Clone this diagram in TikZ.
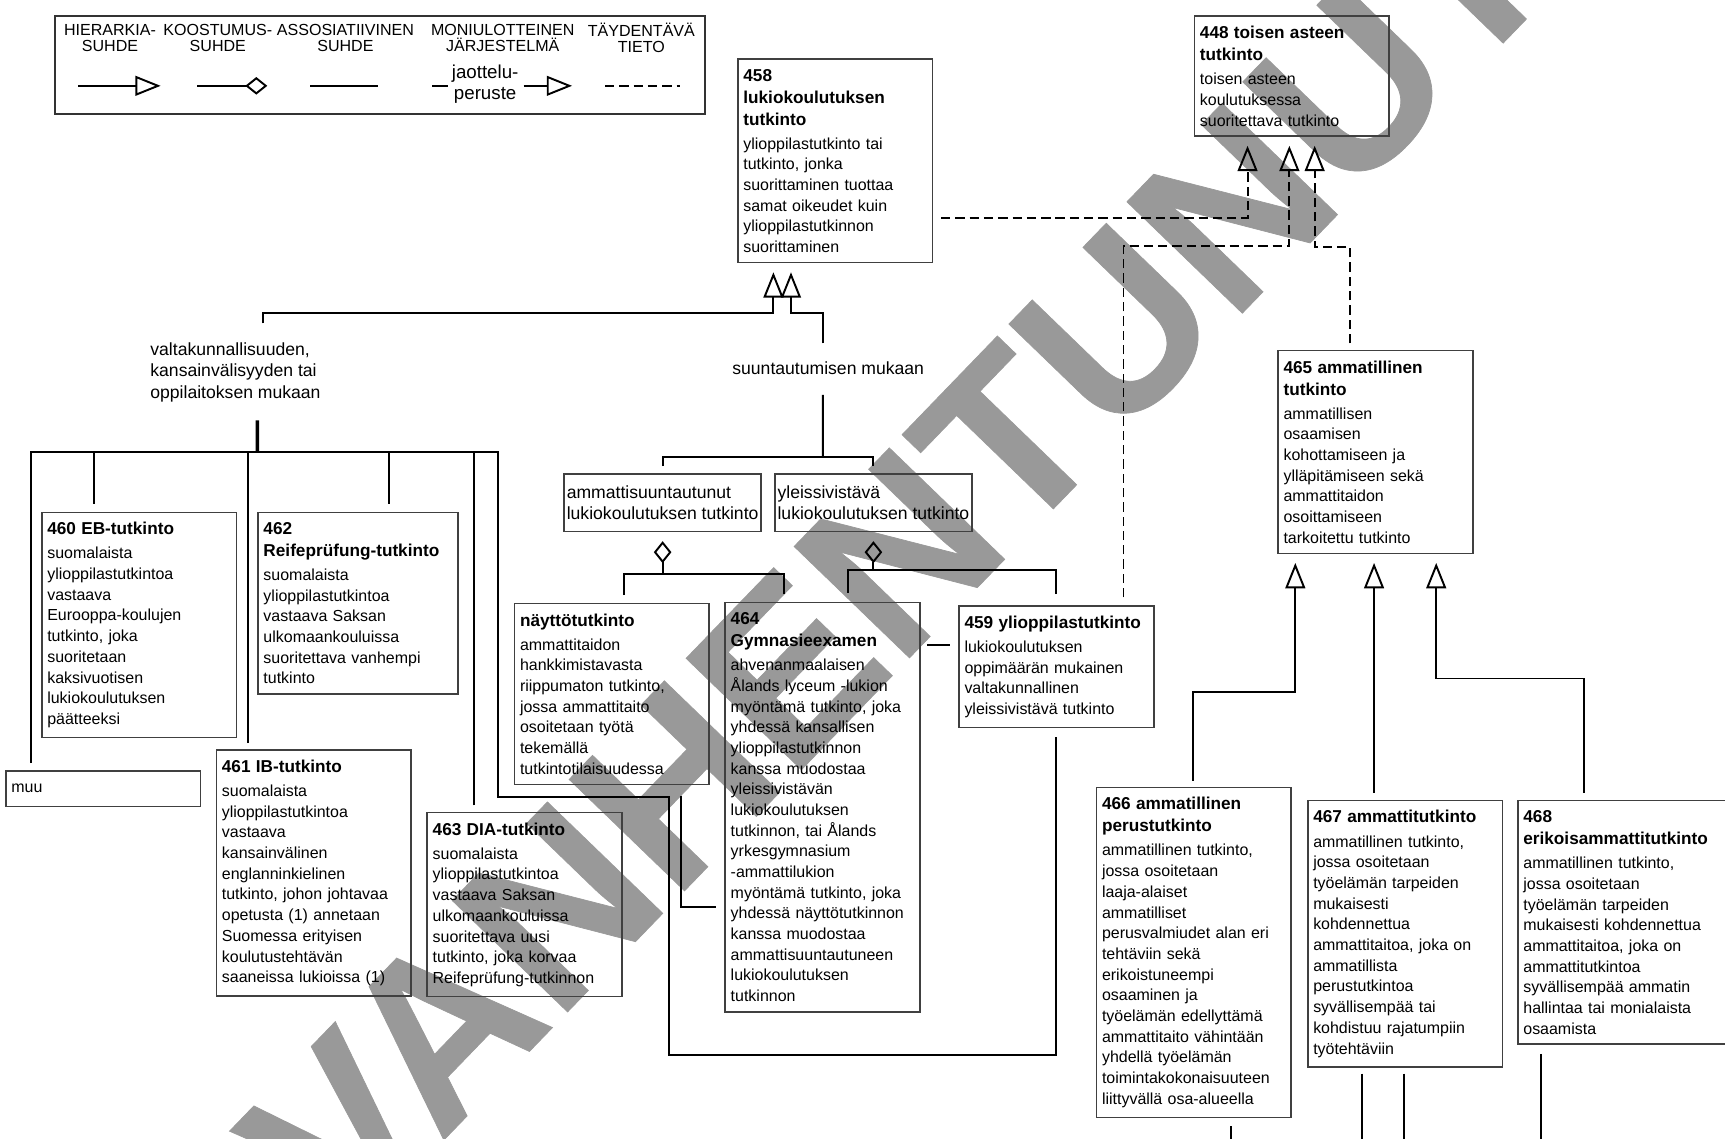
\documentclass[tikz,border=0pt]{standalone}
\usepackage{fontspec}
\setmainfont{Liberation Sans}
\newfontfamily\leimafont[FakeBold=0.3]{Liberation Sans}
\usetikzlibrary{arrows.meta,calc,backgrounds}
\setlength{\parindent}{0pt}

\begin{document}
\begin{tikzpicture}[
  font=\fontsize{4.13}{5.35}\selectfont,
  tk/.style={draw=black!75, line width=0.4pt, anchor=north west, align=left,
             text width=1.67cm, inner xsep=0.05cm, inner ysep=0.09cm},
  luokka/.style={draw=black!75, line width=0.4pt, anchor=north west, align=left,
             inner xsep=0.025cm, inner ysep=0pt, minimum height=0.525cm,
             font=\fontsize{4.55}{5.55}\selectfont},
  peruste/.style={anchor=north west, align=left, inner sep=0pt,
             font=\fontsize{4.55}{5.6}\selectfont},
  otsake/.style={align=center, inner sep=0pt, font=\fontsize{4.15}{4.27}\selectfont},
  yhteys/.style={line width=0.5pt},
  isa/.style={yhteys, -{Triangle[open, length=0.23cm, width=0.18cm]}, shorten >=0.08cm},
  kooste/.style={yhteys, {Diamond[open, length=0.2cm, width=0.16cm]}-},
  tieto/.style={dash pattern=on 0.085cm off 0.045cm},
]
\newcommand{\tk}[2]{{\fontsize{4.45}{5.69}\selectfont\bfseries #1\par}\vspace{0.032cm}{#2\par}}
\useasboundingbox (0,0) rectangle (15.68,-10.35);

% ------------------------------------------------------------------ watermark
\begin{scope}[on background layer]
  \node[rotate=46, anchor=base west, inner sep=0pt, text=black!40,
        font=\leimafont\fontsize{60.3}{61}\selectfont\bfseries] (leima) at (3.12,-11.31) {VANHENTUNUT};
\end{scope}

% ------------------------------------------------------------------ legend
\node[draw=black!80, line width=0.5pt, anchor=north west, minimum width=5.91cm,
      minimum height=0.89cm, inner sep=0pt] (legend) at (0.49,-0.14) {};
\node[otsake] (lhier)  at (1.00,-0.345) {HIERARKIA-\\SUHDE};
\node[otsake] (lkoost) at (1.98,-0.345) {KOOSTUMUS-\\SUHDE};
\node[otsake] (lassoc) at (3.14,-0.345) {ASSOSIATIIVINEN\\SUHDE};
\node[otsake] (lmoni)  at (4.57,-0.345) {MONIULOTTEINEN\\JÄRJESTELMÄ};
\node[otsake] (ltieto) at (5.83,-0.345) {TÄYDENTÄVÄ\\TIETO};
\node[otsake, font=\fontsize{4.84}{5.4}\selectfont] (ljako) at (4.41,-0.765) {jaottelu-\\peruste};
\draw[isa, shorten >=0pt] (0.71,-0.78) -- (1.46,-0.78);
\draw[kooste] (2.43,-0.78) -- (1.795,-0.78);
\draw[yhteys] (2.82,-0.78) -- (3.44,-0.78);
\draw[yhteys] (3.93,-0.78) -- (4.07,-0.78);
\draw[isa, shorten >=0pt] (4.76,-0.78) -- (5.20,-0.78);
\draw[yhteys, tieto] (5.50,-0.78) -- (6.18,-0.78);

% ------------------------------------------------------------------ upper level
\node[tk] (n448) at (10.85,-0.14)
  {\tk{448~toisen~asteen\\tutkinto}{toisen asteen\\koulutuksessa\\suoritettava tutkinto}};
\node[tk] (n458) at (6.70,-0.53)
  {\tk{458\\lukiokoulutuksen\\tutkinto}{ylioppilastutkinto tai\\tutkinto, jonka\\suorittaminen tuottaa\\samat oikeudet kuin\\ylioppilastutkinnon\\suorittaminen}};
\node[tk] (n465) at (11.61,-3.18)
  {\tk{465~ammatillinen\\tutkinto}{ammatillisen\\osaamisen\\kohottamiseen ja\\ylläpitämiseen sekä\\ammattitaidon\\osoittamiseen\\tarkoitettu tutkinto}};

% ------------------------------------------------------------------ division criteria
\node[peruste] (lbvalta) at (1.36,-3.105)
  {valtakunnallisuuden,\\kansainvälisyyden tai\\oppilaitoksen mukaan};
\node[peruste] (lbsuunta) at (6.65,-3.28) {suuntautumisen mukaan};
\node[luokka] (namm) at (5.12,-4.30) {ammattisuuntautunut\\lukiokoulutuksen tutkinto};
\node[luokka] (nyle) at (7.036,-4.30) {yleissivistävä\\lukiokoulutuksen tutkinto};

% ------------------------------------------------------------------ upper secondary degrees
\node[tk] (n460) at (0.373,-4.65)
  {\tk{460~EB-tutkinto}{suomalaista\\ylioppilastutkintoa\\vastaava\\Eurooppa-koulujen\\tutkinto, joka\\suoritetaan\\kaksivuotisen\\lukiokoulutuksen\\päätteeksi}};
\node[tk, text width=1.72cm] (n462) at (2.338,-4.65)
  {\tk{462\\Reifeprüfung-tutkinto}{suomalaista\\ylioppilastutkintoa\\vastaava Saksan\\ulkomaankouluissa\\suoritettava vanhempi\\tutkinto}};
\node[tk, minimum height=0.324cm] (nmuu) at (0.046,-7.00) {muu};
\node[tk] (n461) at (1.96,-6.81)
  {\tk{461~IB-tutkinto}{suomalaista\\ylioppilastutkintoa\\vastaava\\kansainvälinen\\englanninkielinen\\tutkinto, johon johtavaa\\opetusta (1) annetaan\\Suomessa erityisen\\koulutustehtävän\\saaneissa lukioissa (1)}};
\node[tk] (n463) at (3.876,-7.38)
  {\tk{463~DIA-tutkinto}{suomalaista\\ylioppilastutkintoa\\vastaava Saksan\\ulkomaankouluissa\\suoritettava uusi\\tutkinto, joka korvaa\\Reifeprüfung-tutkinnon}};
\node[tk] (nnayt) at (4.67,-5.48)
  {\tk{näyttötutkinto}{ammattitaidon\\hankkimistavasta\\riippumaton tutkinto,\\jossa ammattitaito\\osoitetaan työtä\\tekemällä\\tutkintotilaisuudessa}};
\node[tk] (n464) at (6.585,-5.47)
  {\tk{464\\Gymnasieexamen}{ahvenanmaalaisen\\Ålands lyceum -lukion\\myöntämä tutkinto, joka\\yhdessä kansallisen\\ylioppilastutkinnon\\kanssa muodostaa\\yleissivistävän\\lukiokoulutuksen\\tutkinnon, tai Ålands\\yrkesgymnasium\\-ammattilukion\\myöntämä tutkinto, joka\\yhdessä näyttötutkinnon\\kanssa muodostaa\\ammattisuuntautuneen\\lukiokoulutuksen\\tutkinnon}};
\node[tk] (n459) at (8.71,-5.50)
  {\tk{459~ylioppilastutkinto}{lukiokoulutuksen\\oppimäärän mukainen\\valtakunnallinen\\yleissivistävä tutkinto}};

% ------------------------------------------------------------------ vocational degrees
\node[tk] (n466) at (9.96,-7.15)
  {\tk{466~ammatillinen\\perustutkinto}{ammatillinen tutkinto,\\jossa osoitetaan\\laaja-alaiset\\ammatilliset\\perusvalmiudet alan eri\\tehtäviin sekä\\erikoistuneempi\\osaaminen ja\\työelämän edellyttämä\\ammattitaito vähintään\\yhdellä työelämän\\toimintakokonaisuuteen\\liittyvällä osa-alueella}};
\node[tk] (n467) at (11.88,-7.27)
  {\tk{467~ammattitutkinto}{ammatillinen tutkinto,\\jossa osoitetaan\\työelämän tarpeiden\\mukaisesti\\kohdennettua\\ammattitaitoa, joka on\\ammatillista\\perustutkintoa\\syvällisempää tai\\kohdistuu rajatumpiin\\työtehtäviin}};
\node[tk, text width=1.82cm] (n468) at (13.79,-7.27)
  {\tk{468\\erikoisammattitutkinto}{ammatillinen tutkinto,\\jossa osoitetaan\\työelämän tarpeiden\\mukaisesti kohdennettua\\ammattitaitoa, joka on\\ammattitutkintoa\\syvällisempää ammatin\\hallintaa tai monialaista\\osaamista}};

% ------------------------------------------------------------------ hierarchy to 448
\draw[isa, tieto] ($(n458.south east)+(0.07,0.41)$) -| ($(n448.south west)+(0.49,0)$);
\draw[isa, tieto] ($(n459.north)+(0.61,0.07)$) |- ($(n448.south west)+(0.87,-0.99)$)
  -- ($(n448.south west)+(0.87,0)$);
\draw[isa, tieto] ($(n465.north)+(-0.23,0.06)$) |- ($(n448.south west)+(1.10,-1.00)$)
  -- ($(n448.south west)+(1.10,0)$);

% ------------------------------------------------------------------ hierarchy to 458
\draw[isa] ($(lbvalta.north west)+(1.03,0.165)$) |- ($(n458.south west)+(0.33,-0.45)$)
  -- ($(n458.south west)+(0.33,0)$);
\draw[isa] ($(lbsuunta.north west)+(0.83,0.16)$) |- ($(n458.south west)+(0.49,-0.45)$)
  -- ($(n458.south west)+(0.49,0)$);

% valtakunnallisuuden mukaan
\coordinate (valta) at (2.34,-4.106);
\draw[yhteys, line width=0.9pt] ($(lbvalta.north west)+(0.98,-0.715)$) -- (valta);
\draw[yhteys] ($(nmuu.north west)+(0.24,0.063)$) |- (valta);
\draw[yhteys] ($(n460.north west)+(0.48,0.07)$) |- (valta);
\draw[yhteys] ($(n461.north west)+(0.297,0.055)$) |- (valta);
\draw[yhteys] ($(n462.north west)+(1.2,0.07)$) |- (valta);
\draw[yhteys] ($(n463.north west)+(0.434,0.06)$) |- (valta);
\draw[yhteys] (valta) -| (4.53,-7.248) -| (6.08,-9.587) -| ($(n459.south)+(0,-0.08)$);

% suuntautumisen mukaan
\coordinate (suunta) at (7.48,-4.15);
\draw[yhteys] ($(lbsuunta.north west)+(0.83,-0.31)$) -- (suunta);
\draw[yhteys] ($(namm.north)+(0,0.064)$) |- (suunta);
\draw[yhteys] ($(nyle.north)+(0,0.064)$) |- (suunta);

% ------------------------------------------------------------------ parts
\draw[kooste] ($(namm.south)+(0,-0.08)$) -- ($(namm.south)+(0,-0.38)$);
\draw[yhteys] ($(nnayt.north west)+(1.00,0.07)$) |- ($(namm.south)+(0,-0.38)$);
\draw[yhteys] ($(n464.north west)+(0.54,0.07)$) |- ($(namm.south)+(0,-0.38)$);
\draw[kooste] ($(nyle.south)+(0,-0.08)$) -- ($(nyle.south)+(0,-0.345)$);
\draw[yhteys] ($(n464.north west)+(1.12,0.08)$) |- ($(nyle.south)+(0,-0.345)$);
\draw[yhteys] ($(n459.north)+(0,0.1)$) |- ($(nyle.south)+(0,-0.345)$);

% ------------------------------------------------------------------ associations
\draw[yhteys] ($(nnayt.south west)+(1.52,-0.1)$) |- ($(n464.west)+(-0.077,-0.905)$);
\draw[yhteys] ($(n459.west)+(-0.075,0.197)$) -- ++(-0.205,0);

% ------------------------------------------------------------------ hierarchy to 465
\draw[isa] ($(n466.north west)+(0.886,0.053)$) |- ($(n465.south west)+(0.164,-1.25)$)
  -- ($(n465.south west)+(0.164,0)$);
\draw[isa] ($(n467.north west)+(0.61,0.066)$) -- ($(n465.south west)+(0.88,0)$);
\draw[isa] ($(n468.north west)+(0.61,0.066)$) |- ($(n465.south west)+(1.445,-1.13)$)
  -- ($(n465.south west)+(1.445,0)$);

% continues below the page
\draw[yhteys] ($(n466.south west)+(1.23,-0.075)$) -- ++(0,-0.5);
\draw[yhteys] ($(n467.south west)+(0.5,-0.05)$) -- ++(0,-0.8);
\draw[yhteys] ($(n467.south west)+(0.88,-0.05)$) -- ++(0,-0.8);
\draw[yhteys] ($(n468.south west)+(0.22,-0.08)$) -- ++(0,-1.0);
\end{tikzpicture}
\end{document}
